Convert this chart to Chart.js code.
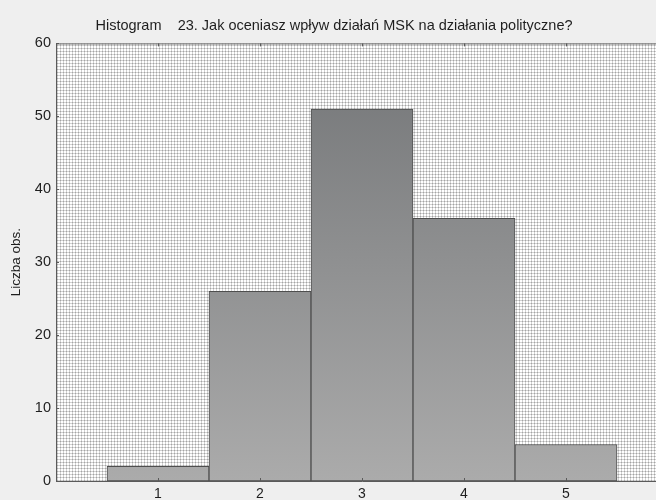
<!DOCTYPE html>
<html>
<head>
<meta charset="utf-8">
<script src="https://cdn.jsdelivr.net/npm/chart.js@4/dist/chart.umd.min.js"></script>
<style>
    html, body { margin: 0; padding: 0; overflow: hidden; background: #efefef; }
    #wrap { position: relative; width: 680px; height: 500px; }
</style>
</head>
<body>
<div id="wrap"><canvas id="histogram" width="680" height="500"></canvas></div>
<script>
(function(){
    // dane
    const kategorie = ['1', '2', '3', '4', '5'];
    const liczebnosci = [2, 26, 51, 36, 5];
    const yTicks = [0, 10, 20, 30, 40, 50, 60];
    const tytul = 'Histogram    23. Jak oceniasz wpływ działań MSK na działania polityczne?';

    // kropkowane tlo obszaru wykresu
    const kafel = document.createElement('canvas');
    kafel.width = 3;
    kafel.height = 3;
    const k = kafel.getContext('2d');
    k.fillStyle = '#ffffff';
    k.fillRect(0, 0, 3, 3);
    k.fillStyle = '#d2d2d2';
    k.fillRect(0, 0, 3, 1);
    k.fillRect(0, 0, 1, 3);
    k.fillStyle = '#a4a4a4';
    k.fillRect(0, 0, 1, 1);

    const tloObszaru = {
        id: 'tloObszaru',
        beforeDatasetsDraw(chart) {
            const { ctx, chartArea: a } = chart;
            ctx.save();
            ctx.fillStyle = ctx.createPattern(kafel, 'repeat');
            ctx.fillRect(a.left, a.top, a.right - a.left, a.bottom - a.top);
            ctx.restore();
        },
        afterDatasetsDraw(chart) {
            const { ctx, chartArea: a, scales } = chart;
            ctx.save();
            ctx.strokeStyle = '#5a5a5a';
            ctx.lineWidth = 1;
            ctx.beginPath();
            ctx.moveTo(a.left + 0.5, a.top + 0.5);
            ctx.lineTo(a.right, a.top + 0.5);
            ctx.moveTo(a.left + 0.5, a.top);
            ctx.lineTo(a.left + 0.5, a.bottom + 0.5);
            ctx.lineTo(a.right, a.bottom + 0.5);
            // krotkie znaczniki do srodka
            kategorie.forEach(c => {
                const x = Math.round(scales.x.getPixelForValue(Number(c))) + 0.5;
                ctx.moveTo(x, a.bottom);
                ctx.lineTo(x, a.bottom - 3);
                ctx.moveTo(x, a.top);
                ctx.lineTo(x, a.top + 3);
            });
            yTicks.forEach(v => {
                const y = Math.round(scales.y.getPixelForValue(v)) + 0.5;
                ctx.moveTo(a.left, y);
                ctx.lineTo(a.left + 3, y);
            });
            ctx.stroke();
            ctx.restore();
        }
    };

    function gradientSlupka(context) {
        const { ctx, chartArea } = context.chart;
        if (!chartArea) return '#8c8c8c';
        const g = ctx.createLinearGradient(0, chartArea.top, 0, chartArea.bottom);
        g.addColorStop(0, '#737577');
        g.addColorStop(1, '#ababab');
        return g;
    }

    const ctx = document.getElementById('histogram');
    new Chart(ctx, {
        type: 'bar',
        data: {
            datasets: [{
                label: 'Liczba obs.',
                data: kategorie.map((c, i) => ({ x: Number(c), y: liczebnosci[i] })),
                backgroundColor: gradientSlupka,
                borderColor: '#4e4e4e',
                borderWidth: 1,
                borderSkipped: false,
                barPercentage: 1,
                categoryPercentage: 1
            }]
        },
        plugins: [tloObszaru],
        options: {
            responsive: false,
            animation: false,
            devicePixelRatio: 1,
            layout: { padding: { right: 12 } },
            scales: {
                x: {
                    type: 'linear',
                    min: 0,
                    max: 6,
                    offset: false,
                    grid: { display: false, drawTicks: false },
                    border: { display: false },
                    afterBuildTicks: scale => {
                        scale.ticks = kategorie.map(c => ({ value: Number(c) }));
                    },
                    afterFit: scale => { scale.height = 19; },
                    ticks: {
                        padding: 5,
                        color: '#1e1e1e',
                        font: { family: 'Liberation Sans', size: 14 },
                        callback: v => String(v)
                    }
                },
                y: {
                    min: 0,
                    max: 60,
                    grid: { display: false, drawTicks: false },
                    border: { display: false },
                    afterBuildTicks: scale => {
                        scale.ticks = yTicks.map(v => ({ value: v }));
                    },
                    afterFit: scale => { scale.width = 56; },
                    ticks: {
                        padding: 5,
                        color: '#1e1e1e',
                        font: { family: 'Liberation Sans', size: 14.5 }
                    },
                    title: {
                        display: true,
                        text: 'Liczba obs.',
                        color: '#1e1e1e',
                        font: { family: 'Liberation Sans', size: 13.5 },
                        padding: { top: 8, bottom: 0 }
                    }
                }
            },
            plugins: {
                legend: { display: false },
                tooltip: { enabled: false },
                title: {
                    display: true,
                    text: tytul,
                    color: '#1e1e1e',
                    font: { family: 'Liberation Sans', size: 14.5, weight: 'normal' },
                    padding: { top: 17, bottom: 9 }
                }
            }
        }
    });
})();
</script>
</body>
</html>
